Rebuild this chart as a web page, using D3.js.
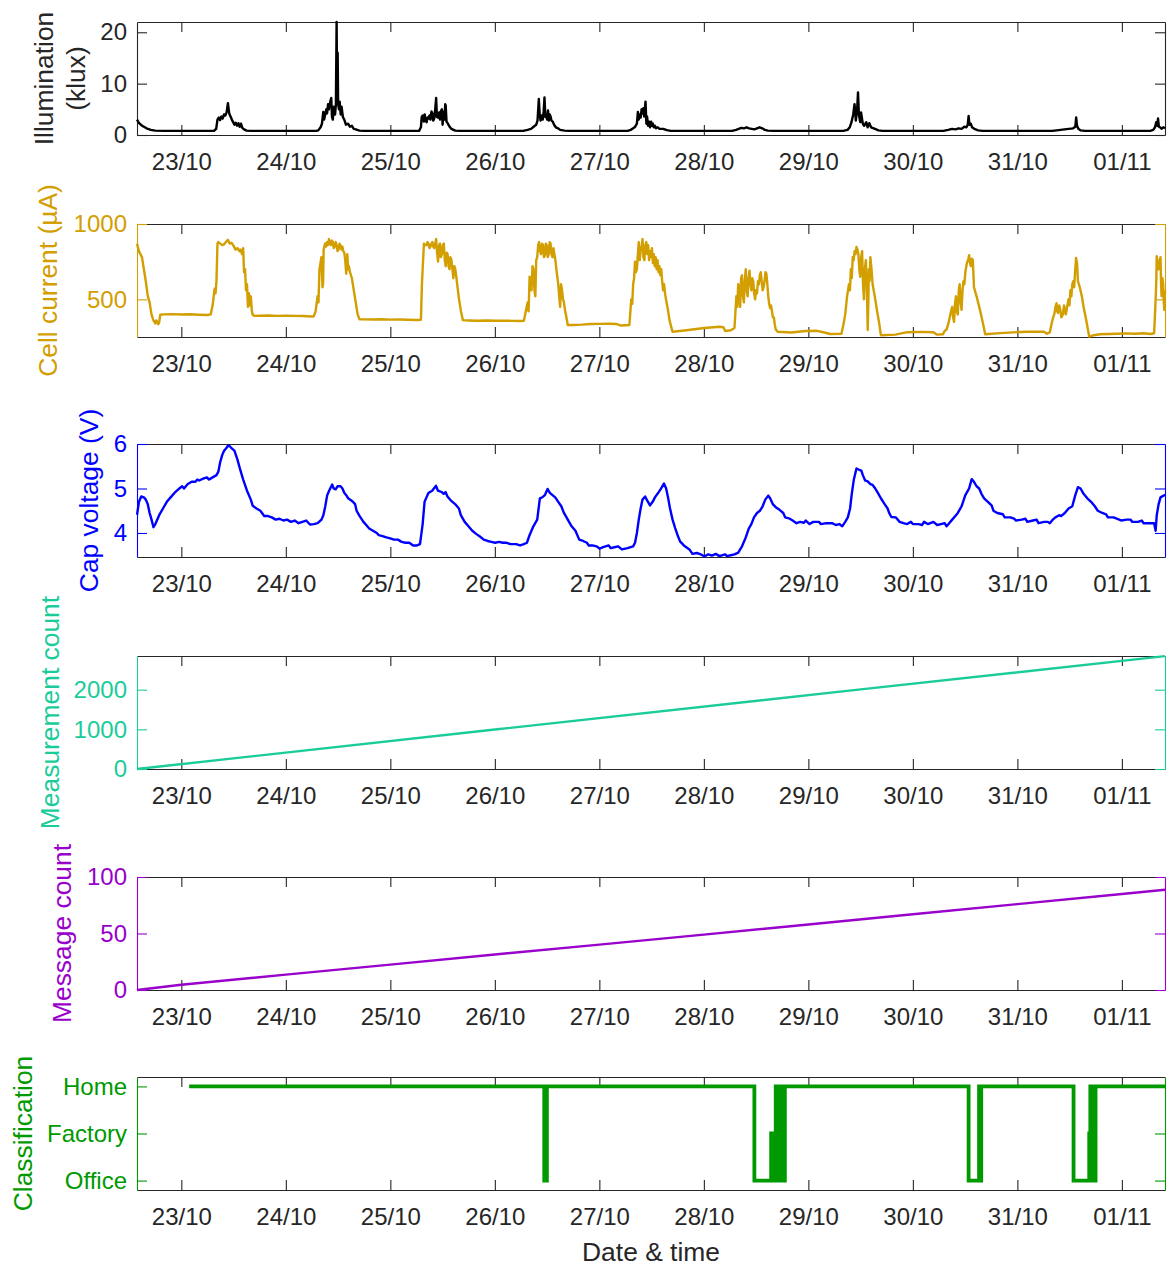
<!DOCTYPE html>
<html>
<head>
<meta charset="utf-8">
<script src="https://cdn.jsdelivr.net/npm/d3@7"></script>
<style>
  body { margin: 0; background: #ffffff; }
  svg { display: block; }
</style>
</head>
<body>
<svg id="chart" width="1169" height="1268"></svg>
<script>
// Times are hours after 22/10 00:00 (UTC); each series is a list of [hour, value].
const startHour = 13.82;
const endHour = 249.9;

const dayTickLabels = ["2023-10-23", "2023-10-24", "2023-10-25", "2023-10-26", "2023-10-27",
  "2023-10-28", "2023-10-29", "2023-10-30", "2023-10-31", "2023-11-01"];

// Illumination (klux)
const illumination = [
  [13.82,3.0],[14.3,2.3],[15.0,1.8],[16.0,1.3],[17.0,1.0],[18.0,0.85],[20.0,0.8],
  [31.5,0.8],[32.0,1.2],[32.3,3.0],[32.6,3.4],[32.9,2.9],[33.2,3.6],[33.5,3.2],[33.8,4.0],[34.1,3.8],[34.4,4.4],[34.7,6.2],[35.0,4.2],[35.3,3.6],[35.6,3.0],[35.9,2.5],[36.2,2.0],[36.5,2.4],[36.8,1.8],[37.1,2.3],[37.4,1.6],[37.7,2.2],[38.0,1.4],[38.4,1.1],[39.0,0.85],[40.0,0.8],
  [55.0,0.8],[55.45,0.9],[55.98,1.5],[56.3,2.2],[56.6,4.5],[56.8,3.0],[57.03,4.0],[57.3,5.0],[57.47,4.2],[57.7,6.0],[57.9,5.0],[58.2,6.5],[58.43,7.2],[58.6,3.5],[58.79,3.0],[59.0,5.5],[59.31,4.0],[59.5,6.0],[59.66,22.0],[59.78,8.0],[59.9,16.0],[60.01,6.0],[60.2,5.0],[60.36,6.5],[60.6,4.0],[60.8,5.5],[61.1,3.5],[61.42,3.0],[61.8,2.0],[62.3,2.2],[62.7,1.6],[63.17,1.8],[63.6,1.2],[64.05,1.1],[64.9,0.85],[66.0,0.8],
  [78.6,0.8],[79.02,1.5],[79.2,3.5],[79.45,3.8],[79.7,2.6],[79.89,4.0],[80.1,2.8],[80.33,2.5],[80.55,3.4],[80.77,3.2],[81.0,3.8],[81.21,3.0],[81.45,4.6],[81.65,4.2],[81.85,2.8],[82.08,3.2],[82.3,5.0],[82.52,7.2],[82.7,3.5],[82.96,3.4],[83.2,4.4],[83.4,3.0],[83.6,4.6],[83.84,5.0],[84.0,2.0],[84.2,4.5],[84.45,3.0],[84.6,6.0],[84.71,5.8],[84.9,2.6],[85.1,2.4],[85.33,2.0],[85.7,1.5],[86.03,1.2],[86.9,0.85],[88.0,0.8],
  [102.5,0.8],[103.5,1.0],[104.3,1.2],[104.9,1.6],[105.5,2.0],[105.8,2.8],[106.1,7.0],[106.3,4.0],[106.5,2.8],[106.8,3.8],[107.0,3.0],[107.2,4.5],[107.4,7.3],[107.6,3.5],[107.8,4.0],[108.0,3.0],[108.2,4.8],[108.4,2.8],[108.6,4.0],[108.8,3.6],[109.0,2.8],[109.3,2.6],[109.6,2.0],[110.0,1.5],[110.5,1.3],[111.0,1.0],[112.0,0.85],[113.0,0.8],
  [126.5,0.8],[127.2,1.0],[127.76,1.3],[128.2,1.6],[128.62,2.2],[128.85,4.5],[129.05,3.0],[129.3,4.0],[129.48,3.4],[129.7,5.0],[129.91,4.2],[130.1,5.2],[130.3,3.6],[130.6,6.5],[130.8,2.2],[130.95,3.6],[131.2,1.8],[131.45,2.6],[131.64,1.5],[131.9,2.6],[132.07,1.8],[132.3,2.2],[132.5,1.5],[132.75,1.8],[133.0,1.3],[133.4,1.5],[133.8,1.2],[134.65,1.2],[135.5,0.95],[136.4,0.8],
  [150.5,0.8],[151.4,1.0],[152.0,1.2],[152.6,1.4],[153.2,1.3],[153.8,1.5],[154.4,1.3],[155.0,1.2],[155.6,1.1],[156.2,1.3],[156.8,1.5],[157.4,1.3],[158.0,1.0],[158.7,0.85],[160.0,0.8],
  [176.0,0.8],[177.0,1.0],[177.5,1.5],[177.9,2.5],[178.3,4.0],[178.6,6.0],[178.9,2.8],[179.2,5.0],[179.4,8.3],[179.6,4.0],[179.9,2.5],[180.1,4.4],[180.5,2.2],[180.8,1.8],[181.3,2.5],[181.6,1.5],[182.0,2.3],[182.4,1.5],[183.3,1.2],[184.1,0.9],[185.0,0.8],
  [199.0,0.8],[200.1,1.0],[201.0,1.2],[201.8,1.1],[202.5,1.3],[203.2,1.2],[203.8,1.6],[204.3,1.5],[204.6,2.0],[204.8,3.7],[205.0,2.0],[205.3,2.2],[205.6,1.5],[206.1,1.2],[207.0,0.9],[208.0,0.8],
  [224.0,0.8],[225.5,0.95],[226.8,1.1],[227.8,1.2],[228.8,1.3],[229.3,1.6],[229.5,3.4],[229.7,1.8],[230.0,1.2],[230.5,0.9],[231.5,0.8],
  [246.5,0.8],[247.2,1.0],[247.6,1.5],[247.9,2.5],[248.1,1.8],[248.3,3.2],[248.5,1.6],[248.8,1.5],[249.1,1.2],[249.5,1.5],[249.9,1.3]
];

// Solar cell current (µA)
const cellCurrent = [
  [13.82,870],[14.26,820],[14.6,800],[14.96,780],[15.4,700],[15.84,620],[16.28,525],[16.71,480],[17.15,400],[17.59,360],[18.03,340],[18.25,360],[18.47,350],[18.7,335],[18.9,345],[19.17,398],[20,400],[22,402],[24,399],[26,401],[28,398],[30,396],[30.75,400],
  [31.19,460],[31.63,570],[31.85,540],[32.07,620],[32.3,870],[32.5,880],[32.94,870],[33.4,860],[33.82,865],[34.25,880],[34.69,895],[35.13,870],[35.55,875],[36.01,855],[36.45,830],[36.9,840],[37.33,820],[37.6,830],[37.94,800],[38.2,840],[38.4,680],[38.64,700],[38.85,560],[39.08,600],[39.3,450],[39.52,540],[39.75,460],[39.96,520],[40.2,420],[40.4,397],[40.84,390],[42,391],[44,393],[46,390],[48,392],[50,390],[52,389],[54,386],[54.4,388],
  [54.84,420],[55.28,520],[55.5,480],[55.72,700],[55.95,740],[56.16,780],[56.42,580],[56.55,600],[56.68,830],[57.03,870],[57.25,850],[57.47,880],[57.7,860],[57.91,900],[58.13,870],[58.35,860],[58.57,890],[58.79,880],[59.0,840],[59.22,850],[59.44,880],[59.66,860],[59.88,820],[60.1,830],[60.32,870],[60.54,860],[60.76,830],[60.98,850],[61.2,820],[61.42,810],[61.64,760],[61.86,670],[62.0,720],[62.12,800],[62.3,700],[62.47,720],[62.73,680],[63.17,640],[63.61,560],[64.05,480],[64.49,400],[64.92,368],[66,367],[68,366],[70,368],[72,365],[74,366],[76,364],[78,363],[79.02,364],
  [79.25,600],[79.45,720],[79.72,870],[80.0,860],[80.33,860],[80.55,880],[80.77,870],[81.0,840],[81.21,850],[81.45,870],[81.65,880],[81.85,850],[82.08,840],[82.3,870],[82.52,900],[82.7,820],[82.96,750],[83.2,860],[83.4,870],[83.6,780],[83.84,800],[84.05,860],[84.28,870],[84.5,760],[84.71,720],[84.95,810],[85.15,800],[85.37,720],[85.59,700],[85.8,780],[86.03,760],[86.25,700],[86.47,640],[86.7,720],[86.91,700],[87.15,650],[87.35,600],[87.78,500],[88.22,420],[88.66,362],[90,360],[92,358],[94,360],[96,358],[98,359],[100,357],[102,356],[102.66,358],
  [103.1,420],[103.54,480],[103.75,420],[103.98,650],[104.2,600],[104.42,560],[104.65,720],[104.86,700],[105.1,560],[105.3,520],[105.5,760],[105.73,780],[105.95,860],[106.17,880],[106.4,820],[106.61,800],[106.85,870],[107.05,860],[107.27,780],[107.49,790],[107.7,870],[107.93,860],[108.15,780],[108.36,800],[108.6,880],[108.8,870],[109.0,800],[109.24,780],[109.45,840],[109.68,800],[109.9,760],[110.12,700],[110.35,650],[110.56,600],[110.78,520],[110.99,450],[111.2,600],[111.43,560],[111.65,500],[111.87,480],[112.1,430],[112.31,400],[112.75,330],[114,330],[116,332],[118,336],[120,337],[122,338],[124,336],[125,326],[126,328],[126.9,330],
  [127.33,500],[127.55,470],[127.76,600],[127.98,640],[128.19,750],[128.4,680],[128.62,700],[128.85,800],[129.05,880],[129.27,760],[129.48,820],[129.7,850],[129.91,900],[130.12,780],[130.34,760],[130.56,860],[130.78,880],[131.0,800],[131.2,860],[131.42,760],[131.64,820],[131.85,780],[132.07,840],[132.3,740],[132.5,800],[132.72,720],[132.93,780],[133.15,700],[133.36,760],[133.58,680],[133.79,720],[134.0,660],[134.22,700],[134.43,620],[134.65,560],[134.87,600],[135.09,540],[135.3,500],[135.69,440],[136.12,360],[136.8,285],[140,295],[144.1,310],[147.6,318],[148.5,315],[148.9,290],[150.2,295],[151.03,310],
  [151.46,520],[151.68,450],[151.89,600],[152.1,560],[152.33,450],[152.55,640],[152.76,660],[152.98,520],[153.19,480],[153.4,620],[153.62,700],[153.84,560],[154.05,520],[154.27,640],[154.48,690],[154.7,600],[154.91,560],[155.12,640],[155.34,620],[155.55,540],[155.77,500],[155.98,560],[156.2,540],[156.42,620],[156.64,600],[156.85,660],[157.07,680],[157.28,620],[157.5,560],[157.72,580],[157.93,620],[158.15,680],[158.36,670],[158.58,600],[158.79,520],[159.0,470],[159.22,440],[159.43,460],[159.65,420],[159.86,380],[160.08,380],[160.3,330],[160.51,300],[160.95,285],[164,280],[167.4,290],[170,291],[171.7,280],[173,270],[175.6,272],
  [176.03,330],[176.46,400],[176.89,520],[177.32,600],[177.55,560],[177.75,700],[177.97,640],[178.19,780],[178.4,760],[178.62,820],[178.84,800],[179.05,848],[179.27,830],[179.48,800],[179.7,700],[179.91,650],[180.12,780],[180.34,820],[180.55,600],[180.77,500],[180.98,700],[181.2,760],[181.42,600],[181.63,297],[181.75,450],[181.89,700],[182.05,620],[182.24,780],[182.5,700],[182.75,600],[183.0,560],[183.36,500],[183.79,420],[184.22,350],[184.65,262],[188,266],[190.7,282],[194,284],[196.7,282],[197.5,266],[198.87,268],
  [199.3,290],[199.74,300],[200.17,340],[200.6,400],[201.03,450],[201.25,380],[201.46,350],[201.68,470],[201.89,520],[202.1,420],[202.32,400],[202.55,560],[202.75,600],[202.97,480],[203.18,430],[203.4,560],[203.61,620],[203.83,600],[204.05,680],[204.27,720],[204.48,750],[204.7,760],[204.91,793],[205.12,740],[205.34,720],[205.55,770],[205.77,760],[206.03,580],[206.33,550],[206.63,520],[207.06,470],[207.49,420],[208.1,340],[208.61,268],[212,276],[218,285],[222,286],[222.8,272],[223.44,280],
  [223.87,340],[224.2,380],[224.48,400],[224.75,450],[224.99,474],[225.15,420],[225.34,410],[225.6,460],[225.86,430],[226.1,380],[226.46,400],[226.7,460],[226.89,440],[227.1,400],[227.32,430],[227.55,470],[227.75,500],[227.95,460],[228.18,560],[228.4,520],[228.61,600],[228.82,620],[229.04,580],[229.25,680],[229.47,775],[229.7,740],[229.91,620],[230.12,600],[230.34,580],[230.8,520],[231.2,450],[231.55,400],[231.89,350],[232.2,300],[232.49,253],[233.5,262],[235,268],[237,270],[239,272],[241,274],[243,272],[245,275],[246.5,270],[247.4,275],
  [247.6,400],[247.75,500],[247.9,620],[248.0,786],[248.2,700],[248.44,700],[248.65,760],[248.87,780],[249.0,600],[249.12,520],[249.3,640],[249.47,600],[249.6,500],[249.73,430],[249.9,560]
];

// Storage capacitor voltage (V)
const capVoltage = [
  [13.83,4.41],[14.27,4.7],[14.79,4.82],[15.41,4.8],[15.84,4.75],[16.28,4.65],[16.72,4.45],[17.16,4.3],[17.6,4.13],[18.04,4.2],[18.91,4.4],[19.79,4.55],[20.67,4.7],[21.54,4.8],[22.42,4.9],[23.3,4.98],[24.18,5.05],[24.61,5.0],[25.49,5.1],[26.37,5.15],[27.24,5.15],[27.68,5.2],[28.12,5.18],[29.0,5.22],[29.88,5.25],[30.31,5.2],[31.19,5.25],[32.07,5.3],[32.51,5.38],[32.94,5.6],[33.38,5.75],[33.82,5.85],[34.26,5.9],[34.7,5.96],[35.14,5.95],[35.58,5.9],[36.19,5.85],[36.89,5.65],[37.59,5.4],[38.21,5.2],[39.08,4.95],[39.96,4.75],[40.4,4.61],[41.27,4.55],[42.15,4.5],[43.03,4.38],[43.91,4.38],[44.78,4.35],[45.66,4.3],[46.54,4.32],[47.41,4.28],[48.29,4.3],[49.17,4.25],[50.04,4.28],[50.92,4.22],[51.8,4.25],[52.67,4.28],[53.55,4.19],[54.43,4.2],[55.31,4.22],[56.18,4.3],[56.62,4.4],[57.06,4.6],[57.5,4.85],[57.94,4.95],[58.64,5.09],[58.99,5.0],[59.43,4.98],[59.86,5.05],[60.57,5.05],[61.0,5.0],[61.44,4.9],[61.88,4.85],[62.32,4.78],[63.2,4.72],[63.9,4.65],[64.25,4.5],[64.95,4.38],[65.83,4.25],[66.71,4.15],[67.14,4.1],[68.02,4.05],[68.9,4.0],[69.34,3.95],[70.21,3.93],[71.09,3.9],[71.97,3.88],[72.84,3.85],[73.72,3.85],[74.6,3.8],[75.47,3.78],[76.35,3.78],[77.23,3.72],[78.1,3.72],[78.81,3.75],[79.42,4.2],[79.86,4.7],[80.3,4.8],[80.74,4.9],[81.61,4.95],[82.49,5.06],[82.93,4.95],[83.81,4.92],[84.24,4.88],[84.68,4.92],[85.12,4.82],[86.0,4.72],[86.87,4.65],[87.75,4.55],[88.19,4.4],[89.07,4.25],[89.94,4.15],[90.82,4.05],[91.7,3.98],[92.57,3.92],[93.45,3.85],[94.33,3.82],[95.2,3.8],[96.08,3.78],[96.96,3.8],[97.84,3.78],[98.71,3.78],[99.59,3.75],[100.9,3.75],[101.78,3.72],[102.66,3.75],[103.36,3.78],[103.97,3.95],[104.85,4.15],[105.73,4.3],[106.34,4.78],[106.87,4.8],[107.48,4.85],[108.1,4.99],[108.63,4.9],[109.24,4.85],[109.86,4.8],[110.56,4.7],[111.26,4.6],[111.87,4.45],[112.75,4.3],[113.63,4.15],[114.51,4.05],[115.38,3.85],[116.26,3.82],[117.14,3.78],[117.58,3.72],[118.45,3.72],[119.33,3.7],[120.03,3.65],
  [120.86,3.68],[122.16,3.72],[122.59,3.66],[123.45,3.68],[124.31,3.7],[125.17,3.63],[126.47,3.66],[127.76,3.7],[128.19,3.78],[128.62,4.0],[129.05,4.3],[129.48,4.55],[129.91,4.75],[130.52,4.82],[131.03,4.72],[131.64,4.62],[132.24,4.7],[132.76,4.8],[133.36,4.88],[134.05,4.98],[134.83,5.11],[135.34,5.0],[135.77,4.8],[136.21,4.56],[136.81,4.3],[137.41,4.11],[137.93,3.96],[138.53,3.81],[139.4,3.72],[140.69,3.63],[141.38,3.53],[142.41,3.55],[143.27,3.52],[144.14,3.47],[145.0,3.52],[145.86,3.49],[146.72,3.53],[147.58,3.48],[148.88,3.52],[149.31,3.48],[150.17,3.5],[151.03,3.52],[151.89,3.56],[152.76,3.7],[153.62,3.9],[154.31,4.1],[154.91,4.2],[155.51,4.35],[156.2,4.45],[156.89,4.5],[157.5,4.6],[158.1,4.75],[158.79,4.84],[159.22,4.78],[159.82,4.65],[160.51,4.58],[161.38,4.52],[162.24,4.45],[162.67,4.35],[163.53,4.33],[164.39,4.28],[165.26,4.22],[166.12,4.25],[166.98,4.23],[167.41,4.28],[168.27,4.2],[169.13,4.25],[170.43,4.25],[170.86,4.2],[172.15,4.22],[173.44,4.22],[174.31,4.18],[175.17,4.2],[175.77,4.15],[176.46,4.25],[177.06,4.35],[177.58,4.55],[177.93,4.85],[178.44,5.2],[179.05,5.45],[179.65,5.42],[180.17,5.4],[180.51,5.3],[181.03,5.18],[181.63,5.16],[182.24,5.1],[182.75,5.08],[183.36,5.0],[183.96,4.9],[184.65,4.78],[185.51,4.65],[186.2,4.55],[186.55,4.45],[187.06,4.36],[188.1,4.35],[188.96,4.25],[189.82,4.22],[190.68,4.2],[191.55,4.25],[191.98,4.2],[193.27,4.2],[194.13,4.18],[194.56,4.25],[195.43,4.2],[196.72,4.25],[197.58,4.18],[198.44,4.2],[199.3,4.22],[199.74,4.15],[200.34,4.22],[201.03,4.3],[201.89,4.4],[202.32,4.45],[203.18,4.6],[204.05,4.85],[204.91,5.0],[205.51,5.21],[206.03,5.15],[206.63,5.05],[207.23,5.0],[207.75,4.88],[208.36,4.78],[209.22,4.7],[210.08,4.62],[210.51,4.5],[211.37,4.45],[212.67,4.42],[213.1,4.35],[214.39,4.35],[215.25,4.32],[215.68,4.28],[216.98,4.3],[217.84,4.32],[218.27,4.25],[219.56,4.28],[220.42,4.3],[220.85,4.22],[222.15,4.25],[223.01,4.25],[223.44,4.22],[224.13,4.3],[224.73,4.35],[225.6,4.4],[226.03,4.38],[226.89,4.45],[227.75,4.55],[228.61,4.6],[229.3,4.85],[229.91,5.03],[230.51,5.0],[231.2,4.88],[232.06,4.78],[232.92,4.7],[233.78,4.6],[234.47,4.5],[235.51,4.45],[236.37,4.42],[236.8,4.35],[238.09,4.35],[239.39,4.3],[239.82,4.28],[241.11,4.3],[241.97,4.3],[242.4,4.25],[243.7,4.25],[244.56,4.28],[244.99,4.22],[246.71,4.22],[247.4,4.22],[247.75,4.05],[248.0,4.4],[248.44,4.65],[248.87,4.8],[249.73,4.85],[249.9,4.85]
];

// Cumulative number of measurements
const measurementCount = [[13.82,0],[96.0,995],[179.5,2000],[249.9,2845]];

// Cumulative number of transmitted messages
const messageCount = [[13.82,0],[24,4.7],[48,13.6],[72,22.5],[96,31.4],[120,40.2],[144,49],[168,58],[192,67],[216,76],[240,85],[249.9,88.7]];

// Location class: 0 = Office, 1 = Factory, 2 = Home
const classNames = ["Office", "Factory", "Home"];
const classification = [
  [25.8,2],[107.35,0],[107.95,2],
  [155.6,0],[159.45,1],[159.6,0],[159.75,1],[159.9,0],[160.1,1],[160.3,0],[160.5,2],[160.65,0],[160.8,2],[160.95,0],[161.1,2],[161.25,0],[161.4,2],[161.55,0],[161.7,2],[161.85,0],[162.0,2],[162.15,0],[162.3,2],[162.45,0],[162.6,2],
  [204.8,0],[207.2,2],[207.35,0],[207.5,2],[207.6,0],[207.7,2],
  [228.9,0],[232.5,1],[232.6,0],[232.75,2],[232.9,0],[233.05,2],[233.2,0],[233.35,2],[233.5,0],[233.65,2],[233.8,0],[233.95,2],[249.9,2]
];

const illumTicks = [0, 10, 20];
const currentTicks = [500, 1000];
const voltageTicks = [4, 5, 6];
const measurementTicks = [0, 1000, 2000];
const messageTicks = [0, 50, 100];
const classTicks = [0, 1, 2];

// ---- layout ----
const FONT = '"Liberation Sans", Arial, Helvetica, sans-serif';
const AXIS_GRAY = "#262626";
const plotLeft = 137, plotRight = 1165;
const panelHeight = 113;

const panels = [
  { data: illumination, domain: [0, 22], ticks: illumTicks, fmt: d => d,
    color: "#000000", axisColor: AXIS_GRAY, lineWidth: 2.4, top: 22,
    labels: [["Illumination", 53], ["(klux)", 85]] },
  { data: cellCurrent, domain: [250, 1000], ticks: currentTicks, fmt: d => d,
    color: "#d29e00", axisColor: "#d29e00", lineWidth: 2.4, top: 224,
    labels: [["Cell current (µA)", 57]] },
  { data: capVoltage, domain: [3.46, 6], ticks: voltageTicks, fmt: d => d,
    color: "#0000ff", axisColor: "#0000ff", lineWidth: 2.4, top: 444,
    labels: [["Cap voltage (V)", 98]] },
  { data: measurementCount, domain: [0, 2849], ticks: measurementTicks, fmt: d => d,
    color: "#1acc99", axisColor: "#1acc99", lineWidth: 2.4, top: 656,
    labels: [["Measurement count", 59]] },
  { data: messageCount, domain: [0, 100], ticks: messageTicks, fmt: d => d,
    color: "#9900cc", axisColor: "#9900cc", lineWidth: 2.4, top: 877,
    labels: [["Message count", 71]] },
  { data: classification, domain: [-0.2, 2.2], ticks: classTicks, fmt: d => classNames[d],
    color: "#009900", axisColor: "#009900", lineWidth: 3.8, top: 1077, step: true,
    labels: [["Classification", 32]] }
];

const svg = d3.select("#chart");
const epoch = Date.UTC(2023, 9, 22);
const toDate = h => new Date(epoch + h * 3600e3);
const parseDay = d3.utcParse("%Y-%m-%d");
const tickDates = dayTickLabels.map(parseDay);

const x = d3.scaleUtc()
  .domain([toDate(startHour), toDate(endHour)])
  .range([plotLeft, plotRight]);

function styleAxis(sel, color, textColor) {
  sel.attr("font-family", FONT).attr("font-size", 24);
  sel.select(".domain").attr("stroke", color).attr("stroke-width", 1.1);
  sel.selectAll(".tick line").attr("stroke", color).attr("stroke-width", 1.1);
  sel.selectAll(".tick text").attr("fill", textColor);
}

panels.forEach(p => {
  const top = p.top, bottom = top + panelHeight;
  const y = d3.scaleLinear().domain(p.domain).range([bottom, top]);
  const g = svg.append("g");

  // bottom and top x axes (ticks point inward)
  g.append("g").attr("transform", `translate(0,${bottom})`)
    .call(d3.axisBottom(x).tickValues(tickDates).tickFormat(d3.utcFormat("%d/%m"))
      .tickSizeInner(-10).tickSizeOuter(0).tickPadding(18))
    .call(s => styleAxis(s, AXIS_GRAY, AXIS_GRAY));
  g.append("g").attr("transform", `translate(0,${top})`)
    .call(d3.axisTop(x).tickValues(tickDates).tickFormat("")
      .tickSizeInner(-10).tickSizeOuter(0))
    .call(s => styleAxis(s, AXIS_GRAY, AXIS_GRAY));

  // left and right y axes in the series colour
  g.append("g").attr("transform", `translate(${plotLeft},0)`)
    .call(d3.axisLeft(y).tickValues(p.ticks).tickFormat(p.fmt)
      .tickSizeInner(-10).tickSizeOuter(0).tickPadding(10))
    .call(s => styleAxis(s, p.axisColor, p.axisColor));
  g.append("g").attr("transform", `translate(${plotRight},0)`)
    .call(d3.axisRight(y).tickValues(p.ticks).tickFormat("")
      .tickSizeInner(-10).tickSizeOuter(0))
    .call(s => styleAxis(s, p.axisColor, p.axisColor));

  // series
  const line = d3.line()
    .x(d => x(toDate(d[0])))
    .y(d => y(d[1]))
    .curve(p.step ? d3.curveStepAfter : d3.curveLinear);
  g.append("path").datum(p.data)
    .attr("d", line)
    .attr("fill", "none")
    .attr("stroke", p.color)
    .attr("stroke-width", p.lineWidth)
    .attr("stroke-linejoin", p.step ? "miter" : "round");

  // y label(s)
  const cy = (top + bottom) / 2;
  p.labels.forEach(([txt, bx]) => {
    g.append("text")
      .attr("transform", `translate(${bx},${cy}) rotate(-90)`)
      .attr("text-anchor", "middle")
      .attr("font-family", FONT)
      .attr("font-size", 26.4)
      .attr("fill", p.axisColor)
      .text(txt);
  });
});

svg.append("text")
  .attr("x", (plotLeft + plotRight) / 2)
  .attr("y", 1261)
  .attr("text-anchor", "middle")
  .attr("font-family", FONT)
  .attr("font-size", 26.4)
  .attr("fill", AXIS_GRAY)
  .text("Date & time");
</script>
